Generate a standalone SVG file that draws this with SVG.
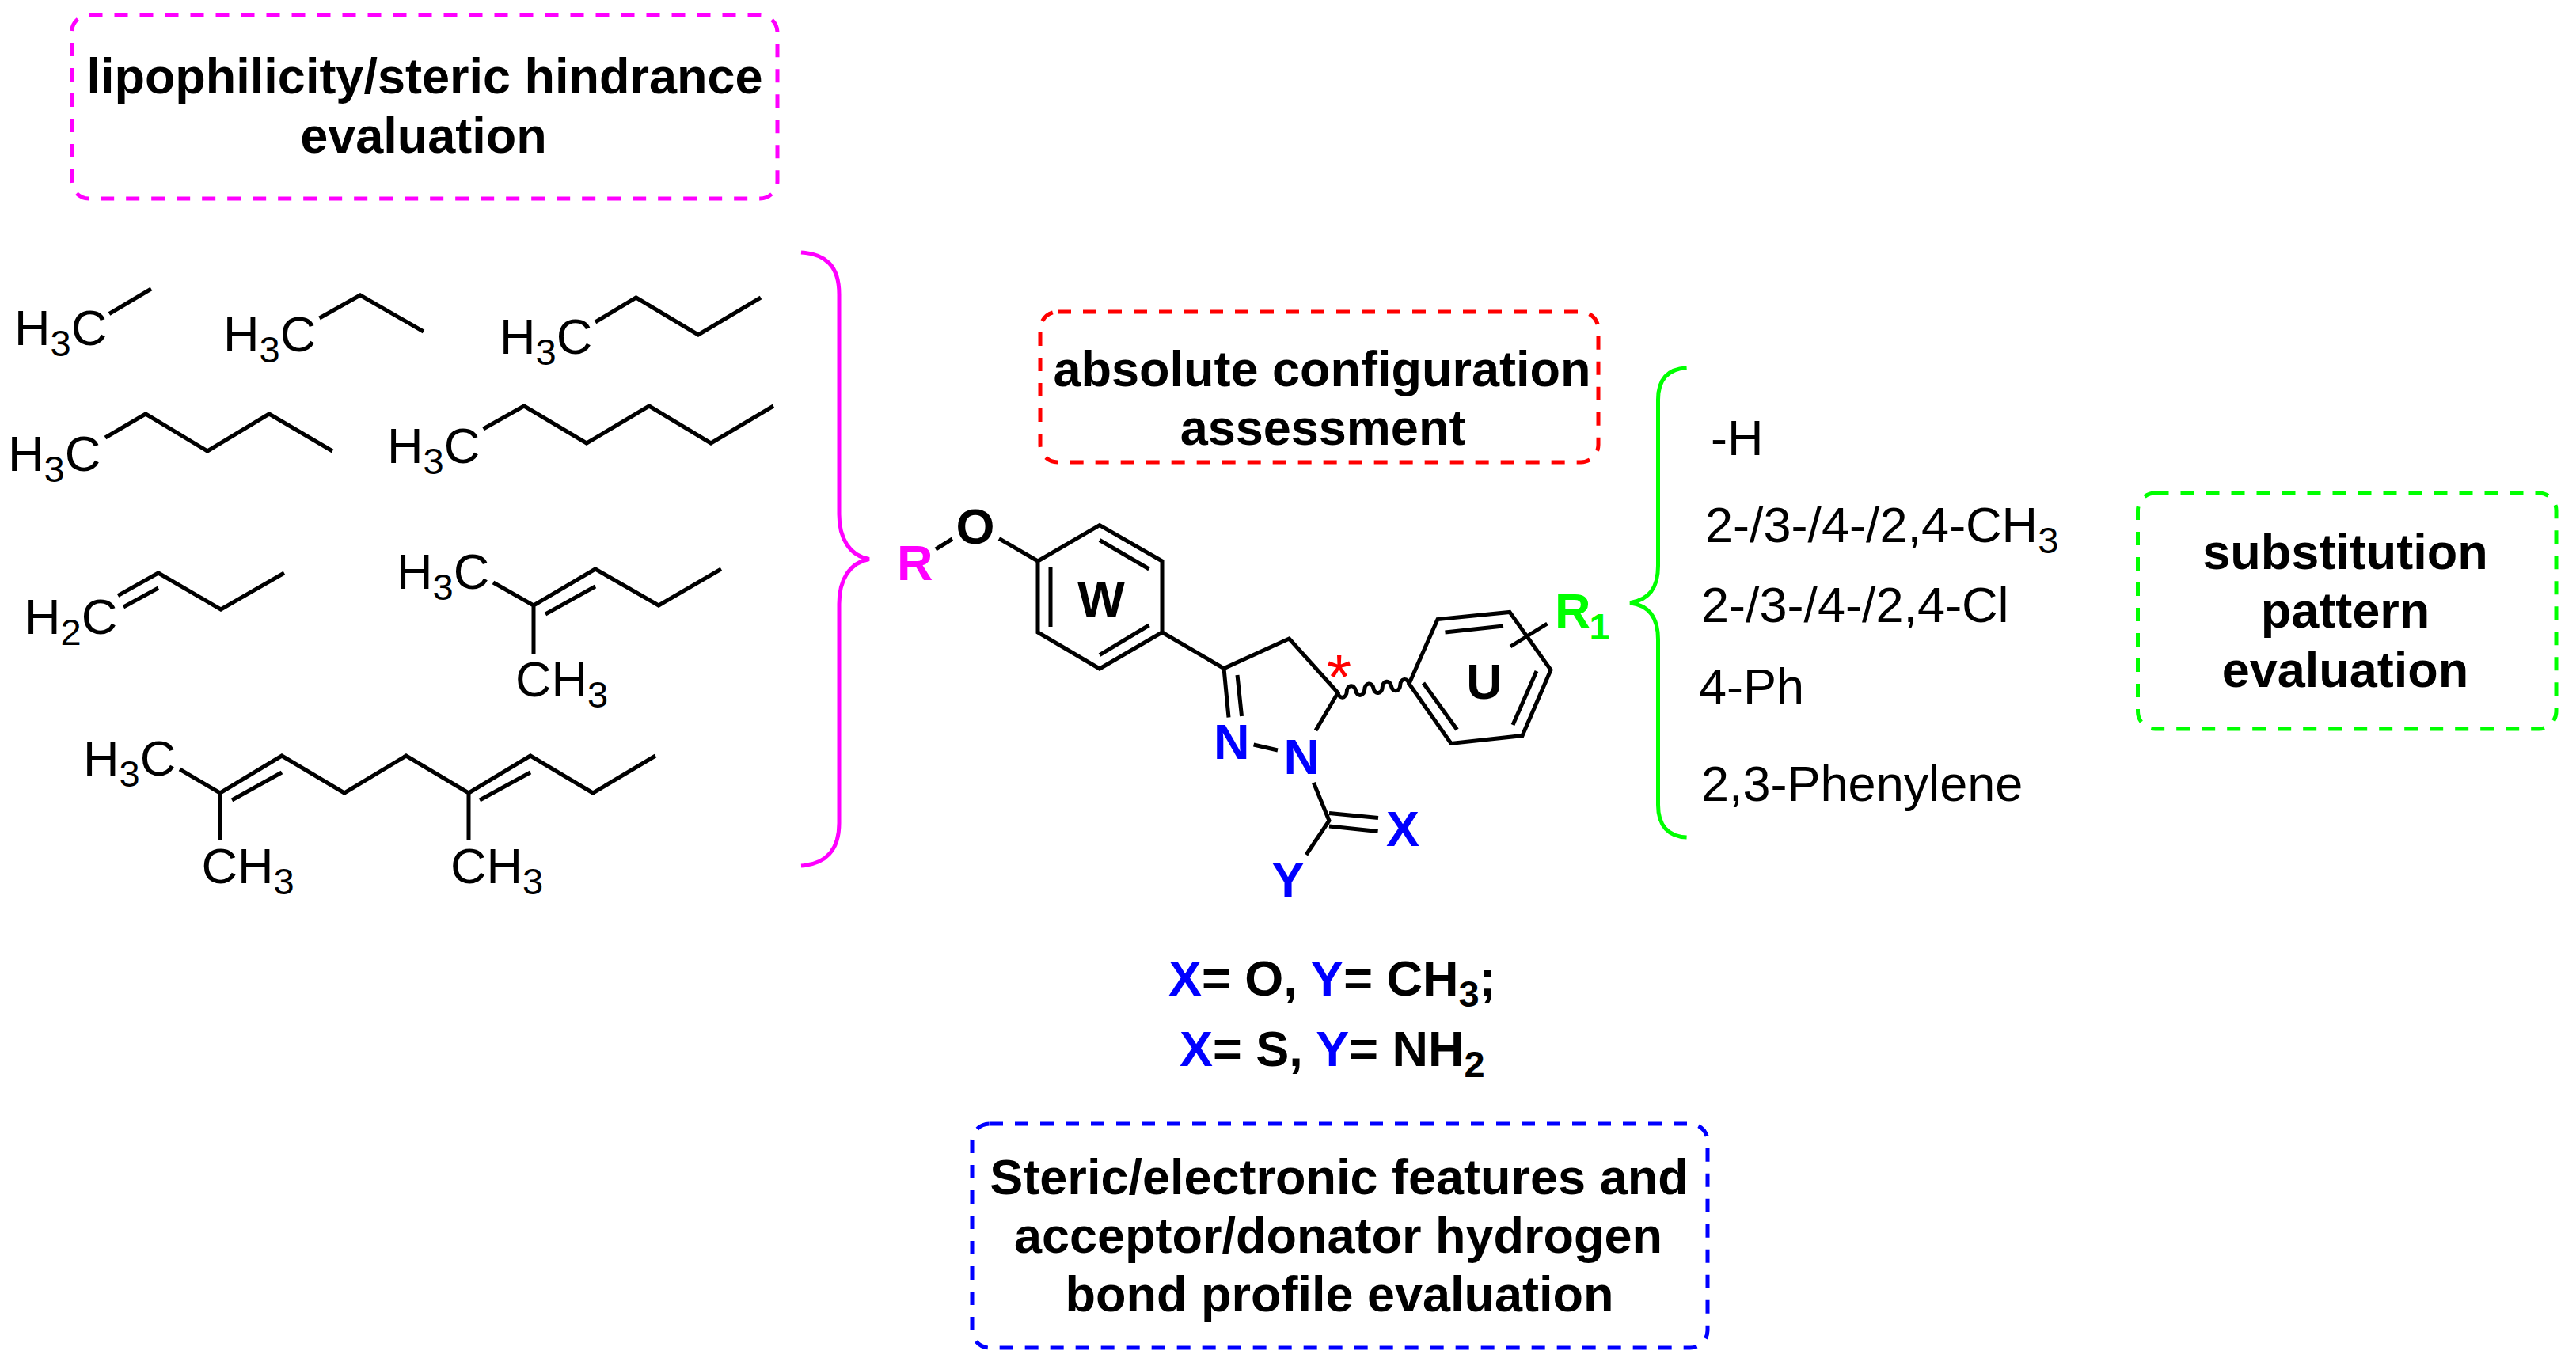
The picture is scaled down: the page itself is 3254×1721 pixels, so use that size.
<svg xmlns="http://www.w3.org/2000/svg" width="3254" height="1721" viewBox="0 0 3254 1721">
<style>
text{font-family:"Liberation Sans",Arial,sans-serif;font-size:63px;fill:#000}
.b{font-weight:bold}
.m{text-anchor:middle}
.s{font-size:47px}
.bl{fill:#0000ff}
.bond{fill:none;stroke:#000;stroke-width:5;stroke-linejoin:miter;stroke-linecap:butt}
.box{fill:none;stroke-width:5;stroke-dasharray:17 15}
.brace{fill:none;stroke-width:5}
</style>
<rect width="3254" height="1721" fill="#fff"/>

<g id="box-lipophilicity">
<rect class="box" x="90.5" y="19" width="891.5" height="232" rx="22" ry="22" stroke="#ff00ff"/>
<text class="b m" x="536.5" y="118">lipophilicity/steric hindrance</text>
<text class="b m" x="535" y="192.5">evaluation</text>
</g>
<g id="box-configuration">
<rect class="box" x="1314" y="394" width="705" height="190" rx="22" ry="22" stroke="#ff0000"/>
<text class="b m" x="1670" y="487.7">absolute configuration</text>
<text class="b m" x="1671" y="562.3">assessment</text>
</g>
<g id="box-substitution">
<rect class="box" x="2700.5" y="623" width="528.5" height="298" rx="22" ry="22" stroke="#00ff00"/>
<text class="b m" x="2962.5" y="719">substitution</text>
<text class="b m" x="2962.5" y="793">pattern</text>
<text class="b m" x="2962.5" y="867.5">evaluation</text>
</g>
<g id="box-steric">
<rect class="box" x="1228" y="1420" width="929" height="283" rx="22" ry="22" stroke="#0000ff"/>
<text class="b m" x="1691.5" y="1509">Steric/electronic features and</text>
<text class="b m" x="1690.5" y="1582.7">acceptor/donator hydrogen</text>
<text class="b m" x="1692" y="1657">bond profile evaluation</text>
</g>

<g id="connectors">
<path class="brace" stroke="#ff00ff" d="M1012 319C1042 321 1060 335 1060 372V650C1060 680 1073 702 1098 706.5C1073 711 1060 733 1060 763V1040C1060 1075 1042 1092 1012 1094"/>
<path class="brace" stroke="#00ff00" d="M2130.6 464.7C2108 466 2094.5 478 2094.5 505V715C2094.5 742 2084 758 2059 761.7C2084 765 2094.5 781 2094.5 808V1017C2094.5 1044 2108 1057 2130.6 1058"/>
</g>

<g id="alkyl-c2">
<path class="bond" d="M138 396.5L191 365"/>
<text x="18" y="435.5">H<tspan class="s" dy="14">3</tspan><tspan dy="-14">C</tspan></text>
</g>
<g id="alkyl-c3">
<path class="bond" d="M403.5 402L455 373L535 419"/>
<text x="282" y="443.6">H<tspan class="s" dy="14">3</tspan><tspan dy="-14">C</tspan></text>
</g>
<g id="alkyl-c4">
<path class="bond" d="M752 407L803.5 376L882 423L961 376"/>
<text x="631" y="447">H<tspan class="s" dy="14">3</tspan><tspan dy="-14">C</tspan></text>
</g>
<g id="alkyl-c5">
<path class="bond" d="M133 553L184 523L262 570L340 523L420 570"/>
<text x="10" y="595">H<tspan class="s" dy="14">3</tspan><tspan dy="-14">C</tspan></text>
</g>
<g id="alkyl-c6">
<path class="bond" d="M610.5 542L662 513L741 560L820 513L898 560L977 513"/>
<text x="489" y="584.5">H<tspan class="s" dy="14">3</tspan><tspan dy="-14">C</tspan></text>
</g>
<g id="alkyl-allyl">
<path class="bond" d="M149 752.6L200 724L279 770L359 724M156 767L200 743"/>
<text x="31" y="801">H<tspan class="s" dy="14">2</tspan><tspan dy="-14">C</tspan></text>
</g>
<g id="alkyl-prenyl">
<path class="bond" d="M623 736L674 765L752 719L832 765L911 719M689 776L752 741M674 765V826"/>
<text x="501" y="744">H<tspan class="s" dy="14">3</tspan><tspan dy="-14">C</tspan></text>
<text x="651" y="880">CH<tspan class="s" dy="14">3</tspan></text>
</g>
<g id="alkyl-geranyl">
<path class="bond" d="M227 972L278 1002L356 955L435 1002L513 955L592 1002L670 955L749 1002L828 955M293 1011L356 976M606 1011L670 976M278 1002V1061.5M592 1002V1061.5"/>
<text x="105" y="980">H<tspan class="s" dy="14">3</tspan><tspan dy="-14">C</tspan></text>
<text x="254.5" y="1116">CH<tspan class="s" dy="14">3</tspan></text>
<text x="569" y="1116">CH<tspan class="s" dy="14">3</tspan></text>
</g>

<g id="core-molecule">
<path class="bond" d="M1182 694L1203 681M1262 680.5L1311 709"/>
<path class="bond" d="M1311 709L1389 663.6L1468 709V799L1389 845L1311 799Z"/>
<path class="bond" d="M1389 682.5L1451.5 719M1451.5 790L1389 827.6M1327 717V792"/>
<path class="bond" d="M1468 799L1546 844.6L1628.5 807L1690 875.4L1662 923M1546 844.6L1552 906.6M1563 853L1568.5 905M1583.6 941L1614 948M1659.4 989L1679 1037L1650 1080M1679 1027.6L1741 1033.5M1679 1044L1740.6 1050.5"/>
<path class="bond" d="M1690 875.4a5.7 7.5 0 0 0 11.25 -1.4a5.7 7.5 0 0 1 11.25 -1.4a5.7 7.5 0 0 0 11.25 -1.4a5.7 7.5 0 0 1 11.25 -1.4a5.7 7.5 0 0 0 11.25 -1.4a5.7 7.5 0 0 1 11.25 -1.4a5.7 7.5 0 0 0 11.25 -1.4a5.7 7.5 0 0 1 11.25 -1.4"/>
<path class="bond" d="M1780 864L1816 782.5L1907 773.4L1959 846.6L1923 929.6L1833 939.4Z"/>
<path class="bond" d="M1825.5 799L1899 791M1941 848L1911 916M1840.6 922L1798 863M1954.5 788L1908 817"/>
<text class="b" x="1133" y="732.7" style="fill:#ff00ff">R</text>
<text class="b m" x="1232" y="687">O</text>
<text class="b m" x="1391" y="778.6">W</text>
<text class="b m" x="1875" y="883">U</text>
<text class="b bl" x="1533" y="959">N</text>
<text class="b bl" x="1621.5" y="978">N</text>
<text class="b bl" x="1751" y="1069">X</text>
<text class="b bl" x="1606" y="1133">Y</text>
<text class="m" x="1691.5" y="883" style="fill:#ff0000;font-size:80px">*</text>
<text class="b" x="1964" y="794" style="fill:#00ff00">R<tspan class="s" dy="14" dx="-2">1</tspan></text>
</g>

<g id="substituents">
<text x="2161" y="575">-H</text>
<text x="2154" y="685.4">2-/3-/4-/2,4-CH<tspan class="s" dy="14">3</tspan></text>
<text x="2149" y="786.4">2-/3-/4-/2,4-Cl</text>
<text x="2146" y="889">4-Ph</text>
<text x="2149" y="1012">2,3-Phenylene</text>
</g>

<g id="xy-legend">
<text class="b" x="1476" y="1258"><tspan class="bl">X</tspan>= O, <tspan class="bl">Y</tspan>= CH<tspan class="s" dy="14">3</tspan><tspan dy="-14">;</tspan></text>
<text class="b" x="1490" y="1346.7"><tspan class="bl">X</tspan>= S, <tspan class="bl">Y</tspan>= NH<tspan class="s" dy="14">2</tspan></text>
</g>
</svg>
